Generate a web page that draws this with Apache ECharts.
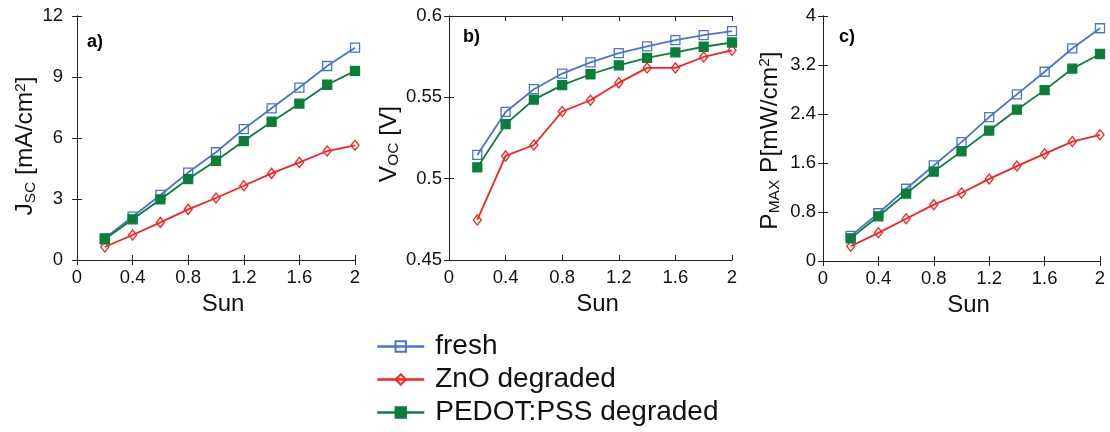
<!DOCTYPE html>
<html><head><meta charset="utf-8">
<script src="https://cdn.jsdelivr.net/npm/echarts@6/dist/echarts.min.js"></script>
<style>html,body{margin:0;padding:0;background:#fff}#c{width:1110px;height:432px}</style>
</head><body><div id="c"></div>
<script>
// ---- data ----
const sun = [0.2, 0.4, 0.6, 0.8, 1.0, 1.2, 1.4, 1.6, 1.8, 2.0];
const seriesNames = ['fresh', 'ZnO degraded', 'PEDOT:PSS degraded'];
const jscFresh = [1.07, 2.13, 3.2, 4.3, 5.3, 6.44, 7.46, 8.48, 9.54, 10.44];
const jscZnO   = [0.64, 1.23, 1.85, 2.49, 3.05, 3.65, 4.26, 4.8, 5.36, 5.64];
const jscPedot = [1.02, 2.0, 2.98, 3.98, 4.88, 5.85, 6.8, 7.69, 8.62, 9.3];
const vocFresh = [0.5146, 0.541, 0.555, 0.5646, 0.5715, 0.5772, 0.5813, 0.5852, 0.5882, 0.5907];
const vocZnO   = [0.4746, 0.514, 0.5207, 0.5413, 0.5482, 0.5589, 0.5681, 0.5681, 0.5748, 0.5789];
const vocPedot = [0.5069, 0.5335, 0.5486, 0.5575, 0.5642, 0.5697, 0.5742, 0.5776, 0.5811, 0.5837];
const pmaxFresh = [0.41, 0.78, 1.18, 1.56, 1.94, 2.35, 2.72, 3.09, 3.47, 3.8];
const pmaxZnO   = [0.24, 0.46, 0.69, 0.92, 1.11, 1.34, 1.55, 1.75, 1.95, 2.06];
const pmaxPedot = [0.37, 0.73, 1.10, 1.46, 1.79, 2.13, 2.47, 2.79, 3.14, 3.38];
const xRange = {min: 0, max: 2, interval: 0.4};
const yRanges = [
  {min: 0, max: 12, interval: 3},
  {min: 0.45, max: 0.6, interval: 0.05},
  {min: 0, max: 4, interval: 0.8}
];
const panelLabels = ['a)', 'b)', 'c)'];
const xName = 'Sun';
const yNames = [
  '{b|J}{s|SC}{b| [mA/cm}{sup|2}{b|]}',
  '{b|V}{s|OC}{b| [V]}',
  '{b|P}{s|MAX}{b| P[mW/cm}{sup|2}{b|]}'
];

// ---- layout / style ----
const FONT = 'Liberation Sans, Arial, Helvetica, sans-serif';
const COLORS = ['#4876c8', '#ff1f1f', '#0b7f3a'];
const grids = [
  {left: 77, top: 16, width: 278, height: 244},
  {left: 449, top: 16, width: 283, height: 244},
  {left: 823, top: 16, width: 277, height: 245}
];
const yLabelMargin = [14, 7, 7];
const yNameGap = [35, 36, 40];
const yNamePad = [[0, 16, 0, 0], [0, 12, 0, 0], [0, 4, 0, 0]];
const AX = '#222';

const xAxis = [], yAxis = [], series = [];
grids.forEach((g, i) => {
  xAxis.push({
    type: 'value', gridIndex: i, position: 'bottom', ...xRange,
    axisLine: {show: true, lineStyle: {color: AX, width: 1}},
    axisTick: {show: true, inside: true, length: 5, lineStyle: {color: AX}},
    axisLabel: {show: true, margin: 8, fontSize: 18.5, color: '#111', fontFamily: FONT},
    splitLine: {show: false},
    name: xName, nameLocation: 'middle', nameGap: 27,
    nameTextStyle: {fontSize: 24, color: '#111', fontFamily: FONT, padding: [0, 0, 0, 14]}
  });
  xAxis.push({
    type: 'value', gridIndex: i, position: 'top', ...xRange,
    axisLine: {show: true, lineStyle: {color: AX, width: 1}},
    axisTick: {show: true, inside: true, length: 5, lineStyle: {color: AX}},
    axisLabel: {show: false}, splitLine: {show: false}
  });
  yAxis.push({
    type: 'value', gridIndex: i, position: 'left', ...yRanges[i],
    axisLine: {show: true, lineStyle: {color: AX, width: 1}},
    axisTick: {show: true, inside: true, length: 5, lineStyle: {color: AX}},
    axisLabel: {show: true, margin: yLabelMargin[i], fontSize: 18.5, color: '#111', fontFamily: FONT},
    splitLine: {show: false},
    name: yNames[i], nameLocation: 'middle', nameRotate: 90, nameGap: yNameGap[i],
    nameTextStyle: {
      color: '#111', fontFamily: FONT, padding: yNamePad[i],
      rich: {
        b: {fontSize: 24.5, fontFamily: FONT, color: '#111', lineHeight: 26},
        s: {fontSize: 15.5, fontFamily: FONT, color: '#111', verticalAlign: 'bottom', lineHeight: 19},
        sup: {fontSize: 15.5, fontFamily: FONT, color: '#111', verticalAlign: 'top', lineHeight: 17}
      }
    }
  });
  yAxis.push({
    type: 'value', gridIndex: i, position: 'right', ...yRanges[i],
    axisLine: {show: true, lineStyle: {color: AX, width: 1}},
    axisTick: {show: true, inside: true, length: 5, lineStyle: {color: AX}},
    axisLabel: {show: false}, splitLine: {show: false}
  });
});

const dataSets = [
  [jscFresh, jscZnO, jscPedot],
  [vocFresh, vocZnO, vocPedot],
  [pmaxFresh, pmaxZnO, pmaxPedot]
];
const symbols = ['rect', 'diamond', 'rect'];
const symbolSizes = [9, [8, 10], 9];
const fills = ['rgba(255,255,255,0)', 'rgba(255,255,255,0)', COLORS[2]];

dataSets.forEach((set, i) => {
  set.forEach((vals, k) => {
    series.push({
      type: 'line', name: seriesNames[k],
      xAxisIndex: i * 2, yAxisIndex: i * 2,
      data: sun.map((x, j) => [x, vals[j]]),
      symbol: symbols[k], symbolSize: symbolSizes[k], showAllSymbol: true,
      lineStyle: {color: COLORS[k], width: 1.8},
      itemStyle: {color: fills[k], borderColor: COLORS[k], borderWidth: 1.3, opacity: 1},
      emphasis: {disabled: true},
      animation: false, z: 2 + k
    });
  });
});

const titlePos = [[87, 33], [463, 28], [839, 28]];
const graphic = panelLabels.map((t, i) => ({
  type: 'text', left: titlePos[i][0], top: titlePos[i][1],
  style: {text: t, font: 'bold 18px ' + FONT, fill: '#000'}
}));

const option = {
  animation: false,
  backgroundColor: '#fff',
  grid: grids,
  xAxis, yAxis, series, graphic,
  legend: {
    orient: 'vertical', left: 376, top: 331, padding: 0, height: 100,
    itemWidth: 47, itemHeight: 13, itemGap: 2,
    data: seriesNames,
    lineStyle: {width: 2.5},
    textStyle: {fontSize: 28, lineHeight: 31, fontFamily: FONT, color: '#111', padding: [0, 0, 0, 6]}
  }
};
const chart = echarts.init(document.getElementById('c'), null, {renderer: 'canvas'});
chart.setOption(option);
</script>
</body></html>
